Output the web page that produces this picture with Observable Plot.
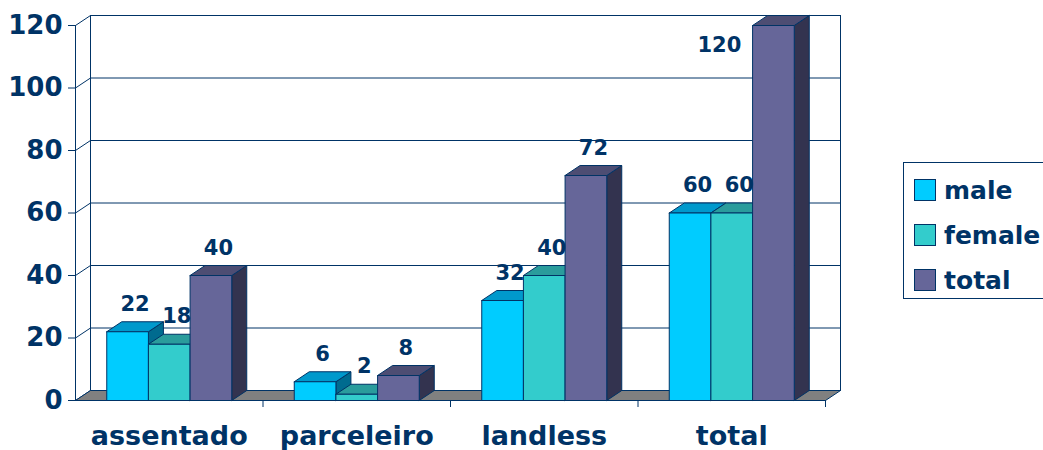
<!DOCTYPE html>
<html><head><meta charset="utf-8">
<script src="https://cdn.jsdelivr.net/npm/d3@7"></script>
<script src="https://cdn.jsdelivr.net/npm/@observablehq/plot@0.6"></script>
<style>
body{margin:0;background:#fff;}
#wrap{position:relative;width:1043px;height:450px;overflow:hidden;font-family:"DejaVu Sans",sans-serif;font-weight:bold;color:#003366;}
#legend{position:absolute;left:903px;top:162px;width:160px;height:135px;border:1px solid #003366;background:#fff;}
.row{position:absolute;left:10px;height:24px;display:flex;align-items:center;font-size:25px;white-space:nowrap;}
.sw{width:20px;height:20px;border:1px solid #003366;margin-right:8px;flex:none;}
</style></head>
<body><div id="wrap"><div id="chart"></div><div id="legend"></div></div>
<script>
const categories = ["assentado", "parceleiro", "landless", "total"];
const seriesNames = ["male", "female", "total"];
const male = [22, 6, 32, 60];
const female = [18, 2, 40, 60];
const total = [40, 8, 72, 120];
const yTicks = [0, 20, 40, 60, 80, 100, 120];

const frontColors = ["#00CCFF", "#33CCCC", "#666699"];
const topColors = ["#0099CC", "#2A9C9C", "#4D4D73"];
const sideColors = ["#006B8F", "#1D7272", "#33334F"];
const navy = "#003366";

// 3D geometry (in data units of the x/y scales)
const DX = 0.08, DY = 3.2, BAR = 2 / 9, OFF = 1 / 6, N = categories.length;
const seriesValues = [male, female, total];

const polys = [];
function poly(id, pts, fill) { pts.forEach(([x, y]) => polys.push({id, x, y, fill})); }

// back wall lines
const wall = [];
const yMax = d3.max(yTicks);
yTicks.forEach(t => {
  wall.push({id: "g" + t, x: DX, y: t + DY}, {id: "g" + t, x: N + DX, y: t + DY});
  wall.push({id: "c" + t, x: 0, y: t}, {id: "c" + t, x: DX, y: t + DY});
});
wall.push({id: "L", x: DX, y: DY}, {id: "L", x: DX, y: yMax + DY});
wall.push({id: "R", x: N + DX, y: DY}, {id: "R", x: N + DX, y: yMax + DY});
wall.push({id: "F", x: 0, y: 0}, {id: "F", x: 0, y: yMax});

// floor
poly("floor", [[0, 0], [N, 0], [N + DX, DY], [DX, DY], [0, 0]], "#808080");

const labels = [];
categories.forEach((c, i) => {
  seriesNames.forEach((s, j) => {
    const v = seriesValues[j][i];
    const x1 = i + OFF + j * BAR, x2 = x1 + BAR, id = c + s;
    poly(id + "side", [[x2, 0], [x2 + DX, DY], [x2 + DX, v + DY], [x2, v], [x2, 0]], sideColors[j]);
    poly(id + "top", [[x1, v], [x2, v], [x2 + DX, v + DY], [x1 + DX, v + DY], [x1, v]], topColors[j]);
    poly(id + "front", [[x1, 0], [x2, 0], [x2, v], [x1, v], [x1, 0]], frontColors[j]);
    const atTop = v + 10 > yMax;
    labels.push({x: atTop ? x1 - 0.06 : (x1 + x2) / 2 + DX / 2, y: v, text: String(v), anchor: atTop ? "end" : "middle"});
  });
});

const chart = Plot.plot({
  width: 1043, height: 450,
  marginLeft: 75, marginRight: 218, marginTop: 25, marginBottom: 50,
  x: {domain: [0, N], axis: null},
  y: {domain: [0, yMax], axis: null},
  color: {type: "identity"},
  style: {fontFamily: "DejaVu Sans", fontWeight: "bold", color: navy, background: "#fff"},
  marks: [
    Plot.line(wall, {x: "x", y: "y", z: "id", stroke: navy, strokeWidth: 1}),
    Plot.line(polys, {x: "x", y: "y", z: "id", fill: "fill", stroke: navy, strokeWidth: 1, strokeLinejoin: "miter"}),
    Plot.axisY({ticks: yTicks, tickSize: 7, tickPadding: 6, fontSize: 26, fontWeight: "bold", color: navy, label: null, tickFormat: d => String(d)}),
    Plot.axisX({ticks: d3.range(1, N + 1), tickSize: 7, tickFormat: () => "", color: navy, label: null}),
    Plot.text(categories, {x: (d, i) => i + 0.5, y: () => 0, text: d => d, dy: 44, lineAnchor: "bottom", fontSize: 27, fontWeight: "bold", fill: navy}),
    Plot.text(labels.filter(d => d.anchor === "middle"), {x: "x", y: "y", text: "text", dy: -21, lineAnchor: "bottom", fontSize: 21, fontWeight: "bold", fill: navy}),
    Plot.text(labels.filter(d => d.anchor === "end"), {x: "x", y: "y", text: "text", dy: 26, textAnchor: "end", lineAnchor: "bottom", fontSize: 21, fontWeight: "bold", fill: navy})
  ]
});
document.getElementById("chart").appendChild(chart);

const legend = document.getElementById("legend");
seriesNames.forEach((s, j) => {
  const row = document.createElement("div");
  row.className = "row";
  row.style.top = (15 + j * 45) + "px";
  row.innerHTML = `<span class="sw" style="background:${frontColors[j]}"></span><span>${s}</span>`;
  legend.appendChild(row);
});
</script>
</body></html>
